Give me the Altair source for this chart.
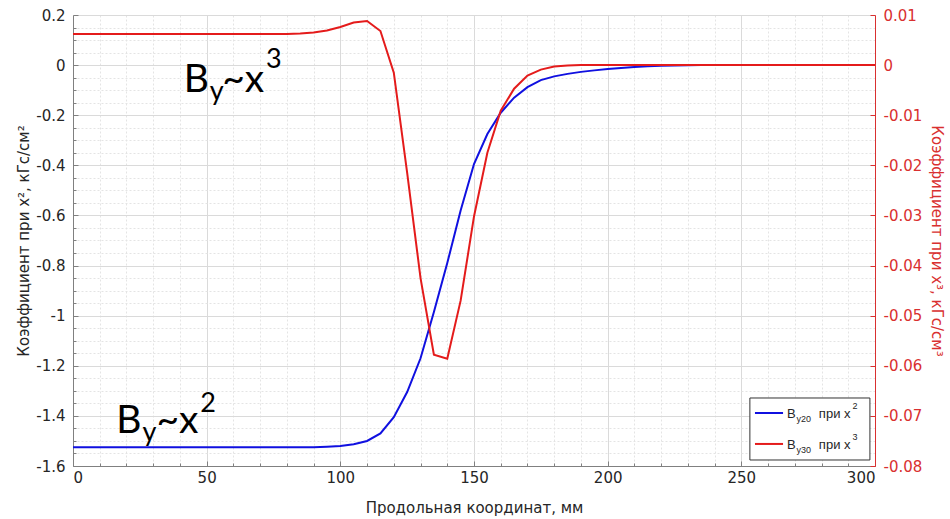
import altair as alt
import pandas as pd

# ---------------- data ----------------
x_mm = [0, 5, 10, 15, 20, 25, 30, 35, 40, 45, 50, 55, 60, 65, 70, 75,
        80, 85, 90, 95, 100, 105, 110, 115, 120, 125, 130, 135, 140, 145,
        150, 155, 160, 165, 170, 175, 180, 185, 190, 195, 200, 205, 210,
        215, 220, 225, 230, 235, 240, 245, 250, 255, 260, 265, 270, 275,
        280, 285, 290, 295, 300]

# B_y20 (coefficient at x^2), left axis, kGs/cm^2
by20 = [-1.525, -1.525, -1.525, -1.525, -1.525, -1.525, -1.525, -1.525,
        -1.525, -1.525, -1.525, -1.525, -1.525, -1.525, -1.525, -1.525,
        -1.525, -1.525, -1.525, -1.523, -1.52, -1.513, -1.50, -1.47,
        -1.405, -1.305, -1.17, -0.985, -0.79, -0.58, -0.395, -0.275,
        -0.19, -0.13, -0.088, -0.06, -0.045, -0.035, -0.027, -0.021,
        -0.016, -0.012, -0.008, -0.005, -0.003, -0.002, -0.001, 0.0, 0.0,
        0.0, 0.0, 0.0, 0.0, 0.0, 0.0, 0.0, 0.0, 0.0, 0.0, 0.0, 0.0]

# B_y30 (coefficient at x^3), right axis, kGs/cm^3
by30 = [0.0062, 0.0062, 0.0062, 0.0062, 0.0062, 0.0062, 0.0062, 0.0062,
        0.0062, 0.0062, 0.0062, 0.0062, 0.0062, 0.0062, 0.0062, 0.0062,
        0.0062, 0.0063, 0.0065, 0.0069, 0.0076, 0.0085, 0.0088, 0.0068,
        -0.0015, -0.0215, -0.0425, -0.0578, -0.0586, -0.047, -0.0302,
        -0.0175, -0.0091, -0.0047, -0.0021, -0.0009, -0.0003, -0.0001,
        0.0, 0.0, 0.0, 0.0, 0.0, 0.0, 0.0, 0.0, 0.0, 0.0, 0.0, 0.0, 0.0,
        0.0, 0.0, 0.0, 0.0, 0.0, 0.0, 0.0, 0.0, 0.0, 0.0]

x_major = [0, 50, 100, 150, 200, 250, 300]
x_minor = [v for v in range(0, 301, 10) if v % 50]
yl_major = [0.2, 0, -0.2, -0.4, -0.6, -0.8, -1, -1.2, -1.4, -1.6]
yl_minor = [round(-1.6 + 0.05 * i, 2) for i in range(37) if i % 4]
yr_major = [0.01, 0, -0.01, -0.02, -0.03, -0.04, -0.05, -0.06, -0.07, -0.08]

x_title = "Продольная координат, мм"
yl_title = "Коэффициент при x², кГс/см²"
yr_title = "Коэффициент при x³, кГс/см³"

# ---------------- styling ----------------
BLUE = "#1010e0"
RED = "#e41b1b"
RED_AX = "#d93030"
GRID_MAJOR = "#dadada"
GRID_MINOR = "#e4e4e4"
AX = "#808080"
TXT = "#262626"
FONT = "DejaVu Sans"
LEG_FONT = "Liberation Sans"
NOTE_FONT = "Lato"

df = pd.DataFrame({"mm": x_mm, "by20": by20, "by30": by30})

xs = alt.Scale(domain=[0, 300], nice=False, zero=False)
ysl = alt.Scale(domain=[-1.6, 0.2], nice=False, zero=False)
ysr = alt.Scale(domain=[-0.08, 0.01], nice=False, zero=False)

base = alt.Chart(df)


def helper_axis(orient, values, **kw):
    opts = dict(orient=orient, values=values, labels=False, ticks=False,
                domain=False, grid=False, title=None)
    opts.update(kw)
    return alt.Axis(**opts)


def helper_layer(xaxis, yaxis):
    return base.mark_line(opacity=0).encode(
        x=alt.X("mm:Q", scale=xs, axis=xaxis),
        y=alt.Y("by20:Q", scale=ysl, axis=yaxis),
    )


grid_minor = helper_layer(
    helper_axis("bottom", x_minor, grid=True, gridColor=GRID_MINOR, gridDash=[2, 2]),
    helper_axis("left", yl_minor, grid=True, gridColor=GRID_MINOR, gridDash=[2, 2]),
)
grid_major = helper_layer(
    helper_axis("bottom", x_major, grid=True, gridColor=GRID_MAJOR),
    helper_axis("left", yl_major, grid=True, gridColor=GRID_MAJOR),
)
ticks_minor = helper_layer(
    helper_axis("bottom", x_minor, ticks=True, tickSize=3, offset=-3, tickColor=AX),
    helper_axis("left", yl_minor, ticks=True, tickSize=3, offset=-3, tickColor=AX),
)
ticks_major = helper_layer(
    helper_axis("bottom", x_major, ticks=True, tickSize=5, offset=-5, tickColor=AX),
    helper_axis("left", yl_major, ticks=True, tickSize=5, offset=-5, tickColor=AX),
)

blue_line = base.mark_line(color=BLUE, strokeWidth=2).encode(
    x=alt.X("mm:Q", scale=xs, axis=alt.Axis(
        orient="bottom", values=x_major, title=x_title, ticks=False,
        domain=True, domainColor=AX, grid=False, labelPadding=4,
        titlePadding=15, labelColor=TXT, titleColor=TXT)),
    y=alt.Y("by20:Q", scale=ysl, axis=alt.Axis(
        orient="left", values=yl_major, title=yl_title, ticks=False,
        domain=True, domainColor=AX, grid=False, labelPadding=8,
        titlePadding=4, labelExpr="'' + datum.value",
        labelColor=TXT, titleColor=TXT)),
)

one = pd.DataFrame({"k": [0]})


def note(text, mm, val, size, font=NOTE_FONT, color="black"):
    return alt.Chart(one).mark_text(
        text=text, align="left", baseline="alphabetic", fontSize=size,
        font=font, color=color,
    ).encode(
        x=alt.X(datum=mm, type="quantitative", scale=xs, axis=None),
        y=alt.Y(datum=val, type="quantitative", scale=ysl, axis=None),
    )


annotations = [
    # B_y ~ x^3  (top)
    note("B", 41.4, -0.107, 39),
    note("y", 51.2, -0.139, 27),
    note("~x", 55.8, -0.107, 39),
    note("3", 72.2, -0.0115, 27),
    # B_y ~ x^2  (bottom)
    note("B", 16.2, -1.468, 39),
    note("y", 26.0, -1.500, 27),
    note("~x", 31.2, -1.468, 39),
    note("2", 47.6, -1.384, 27),
]

legend_box = alt.Chart(one).mark_rect(
    fill="white", stroke="#333333", strokeWidth=1
).encode(
    x=alt.X(datum=253.2, type="quantitative", scale=xs, axis=None),
    x2=alt.X2(datum=298.1),
    y=alt.Y(datum=-1.3286, type="quantitative", scale=ysl, axis=None),
    y2=alt.Y2(datum=-1.576),
)


def legend_line(val, color):
    return alt.Chart(one).mark_rule(color=color, strokeWidth=2).encode(
        x=alt.X(datum=255.1, type="quantitative", scale=xs, axis=None),
        x2=alt.X2(datum=265.6),
        y=alt.Y(datum=val, type="quantitative", scale=ysl, axis=None),
    )


legend = [
    legend_box,
    legend_line(-1.3884, BLUE),
    legend_line(-1.512, RED),
    note("B", 267.1, -1.408, 13, LEG_FONT, TXT),
    note("y20", 270.6, -1.426, 9, LEG_FONT, TXT),
    note("при x", 279.0, -1.408, 13, LEG_FONT, TXT),
    note("2", 291.6, -1.372, 9, LEG_FONT, TXT),
    note("B", 267.1, -1.532, 13, LEG_FONT, TXT),
    note("y30", 270.6, -1.550, 9, LEG_FONT, TXT),
    note("при x", 279.0, -1.532, 13, LEG_FONT, TXT),
    note("3", 291.6, -1.496, 9, LEG_FONT, TXT),
]

left_group = alt.layer(
    grid_minor, grid_major, ticks_minor, ticks_major, blue_line,
    *annotations, *legend
).resolve_axis(x="independent", y="independent")

red_ticks = base.mark_line(opacity=0).encode(
    x=alt.X("mm:Q", scale=xs, axis=None),
    y=alt.Y("by30:Q", scale=ysr, axis=helper_axis(
        "right", yr_major, ticks=True, tickSize=5, offset=-5, tickColor=RED_AX)),
)
red_line = base.mark_line(color=RED, strokeWidth=2).encode(
    x=alt.X("mm:Q", scale=xs, axis=None),
    y=alt.Y("by30:Q", scale=ysr, axis=alt.Axis(
        orient="right", values=yr_major, title=yr_title, ticks=False,
        domain=True, domainColor=RED_AX, grid=False, labelPadding=8,
        titlePadding=7, labelExpr="'' + datum.value",
        labelColor=RED_AX, titleColor=RED_AX)),
)
right_group = alt.layer(red_ticks, red_line).resolve_axis(y="independent")

chart = alt.layer(left_group, right_group).resolve_scale(
    y="independent"
).properties(
    width=802, height=451,
    autosize=alt.AutoSizeParams(type="none"),
    padding={"left": 73, "top": 15, "right": 75, "bottom": 53},
    background="white",
).configure_view(
    stroke=None
).configure_axis(
    labelFont=FONT, titleFont=FONT, labelFontSize=15, titleFontSize=15,
    titleFontWeight="normal",
)

chart.save("out.html", embed_options={"renderer": "svg", "actions": False})
